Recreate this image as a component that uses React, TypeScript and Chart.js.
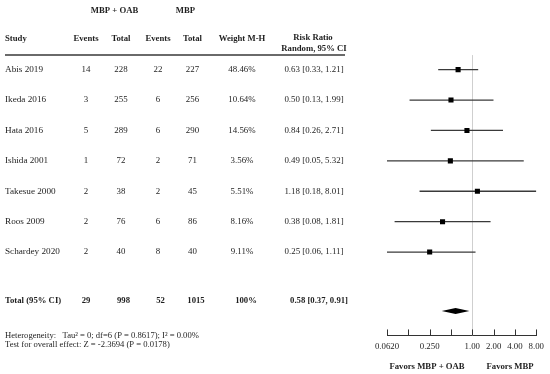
import React, { useEffect, useRef } from "react";
import { Chart, registerables } from "chart.js";

Chart.register(...registerables);

// ---------- data ----------
const studies = ["Abis 2019", "Ikeda 2016", "Hata 2016", "Ishida 2001", "Takesue 2000", "Roos 2009", "Schardey 2020"];
const eventsOAB = [14, 3, 5, 1, 2, 2, 2];
const totalOAB = [228, 255, 289, 72, 38, 76, 40];
const eventsMBP = [22, 6, 6, 2, 2, 6, 8];
const totalMBP = [227, 256, 290, 71, 45, 86, 40];
const weights = ["48.46%", "10.64%", "14.56%", "3.56%", "5.51%", "8.16%", "9.11%"];
const riskRatio = [0.63, 0.5, 0.84, 0.49, 1.18, 0.38, 0.25];
const ciLow = [0.33, 0.13, 0.26, 0.05, 0.18, 0.08, 0.06];
const ciHigh = [1.21, 1.99, 2.71, 5.32, 8.01, 1.81, 1.11];

const totalLabel = "Total (95% CI)";
const totalEventsOAB = 29;
const totalTotalOAB = 998;
const totalEventsMBP = 52;
const totalTotalMBP = 1015;
const totalWeight = "100%";
const pooledRR = 0.58;
const pooledLow = 0.37;
const pooledHigh = 0.91;

const heterogeneityText = "Heterogeneity:   Tau\u00b2 = 0; df=6 (P = 0.8617); I\u00b2 = 0.00%";
const overallText = "Test for overall effect: Z = -2.3694 (P = 0.0178)";

const xTickValues = [0.0625, 0.125, 0.25, 0.5, 1, 2, 4, 8];
const xTickLabels = ["0.0620", "", "0.250", "", "1.00", "2.00", "4.00", "8.00"];

const groupHeaders = ["MBP + OAB", "MBP"];
const columnHeaders = ["Study", "Events", "Total", "Events", "Total", "Weight M-H"];
const rrHeader = ["Risk Ratio", "Random, 95% CI"];
const favorsLabels = ["Favors MBP + OAB", "Favors MBP"];

// ---------- layout (row units on the y scale) ----------
const FONT = "'Liberation Serif', 'Times New Roman', serif";
const ROW_GROUP = -0.93;
const ROW_HEAD = -0.02;
const ROW_HEAD1 = -0.05;
const ROW_HEAD2 = 0.3;
const ROW_RULE = 0.52;
const ROW_TOTAL = 8.6;
const ROW_DIAMOND = 8.94;
const ROW_HET = 9.74;
const ROW_TEST = 10.05;
const ROW_FAVORS = 10.76;

const COL_STUDY = 5;
const COL_X = [86, 121, 158, 192.5, 242];
const COL_X_TOTAL = [86, 123.5, 160.5, 196, 246];
const COL_RR = 314;
const COL_RR_TOTAL = 319;
const GROUP_X = [114.5, 185.5];
const FAVORS_X = [427, 510];

const forestPlugin = {
  id: "forest",
  beforeDatasetsDraw(chart: any) {
    const { ctx, scales, chartArea } = chart;
    const x = scales.x;
    const y = scales.y;
    ctx.save();
    ctx.strokeStyle = "#cfcfcf";
    ctx.lineWidth = 1;
    const px = Math.round(x.getPixelForValue(1)) + 0.5;
    ctx.beginPath();
    ctx.moveTo(px, y.getPixelForValue(ROW_RULE));
    ctx.lineTo(px, chartArea.bottom);
    ctx.stroke();
    ctx.restore();
  },
  afterDraw(chart: any) {
    const { ctx, scales, chartArea } = chart;
    const x = scales.x;
    const y = scales.y;
    const text = (s: string, px: number, row: number, align: CanvasTextAlign, bold: boolean, size: number) => {
      ctx.font = `${bold ? "bold " : ""}${size}px ${FONT}`;
      ctx.textAlign = align;
      ctx.textBaseline = "middle";
      ctx.fillStyle = "#1e1e1e";
      ctx.fillText(s, px, y.getPixelForValue(row));
    };
    ctx.save();

    // upward axis ticks
    ctx.strokeStyle = "#333";
    ctx.lineWidth = 1;
    x.ticks.forEach((t: any) => {
      const px = Math.round(x.getPixelForValue(t.value)) + 0.5;
      ctx.beginPath();
      ctx.moveTo(px, chartArea.bottom - 6);
      ctx.lineTo(px, chartArea.bottom);
      ctx.stroke();
    });

    // pooled diamond
    const yd = y.getPixelForValue(ROW_DIAMOND);
    ctx.fillStyle = "#000";
    ctx.beginPath();
    ctx.moveTo(x.getPixelForValue(pooledLow), yd);
    ctx.lineTo(x.getPixelForValue(pooledRR), yd - 3);
    ctx.lineTo(x.getPixelForValue(pooledHigh), yd);
    ctx.lineTo(x.getPixelForValue(pooledRR), yd + 3);
    ctx.closePath();
    ctx.fill();

    // header rule
    ctx.strokeStyle = "#6a6a6a";
    ctx.lineWidth = 2;
    ctx.beginPath();
    const ry = y.getPixelForValue(ROW_RULE);
    ctx.moveTo(COL_STUDY, ry);
    ctx.lineTo(345, ry);
    ctx.stroke();

    // headers
    groupHeaders.forEach((h, i) => text(h, GROUP_X[i], ROW_GROUP, "center", true, 8.7));
    text(columnHeaders[0], COL_STUDY, ROW_HEAD, "left", true, 8.7);
    columnHeaders.slice(1).forEach((h, i) => text(h, COL_X[i], ROW_HEAD, "center", true, 8.7));
    text(rrHeader[0], COL_RR - 1, ROW_HEAD1, "center", true, 8.7);
    text(rrHeader[1], COL_RR, ROW_HEAD2, "center", true, 8.7);

    // study rows
    studies.forEach((s, i) => {
      const row = i + 1;
      text(s, COL_STUDY, row, "left", false, 9.2);
      const vals = [String(eventsOAB[i]), String(totalOAB[i]), String(eventsMBP[i]), String(totalMBP[i]), weights[i]];
      vals.forEach((v, j) => text(v, COL_X[j], row, "center", false, 8.9));
      text(`${riskRatio[i].toFixed(2)} [${ciLow[i].toFixed(2)}, ${ciHigh[i].toFixed(2)}]`, COL_RR, row, "center", false, 8.9);
    });

    // total row
    text(totalLabel, COL_STUDY, ROW_TOTAL, "left", true, 8.7);
    [String(totalEventsOAB), String(totalTotalOAB), String(totalEventsMBP), String(totalTotalMBP), totalWeight].forEach((v, j) =>
      text(v, COL_X_TOTAL[j], ROW_TOTAL, "center", true, 8.7)
    );
    text(`${pooledRR.toFixed(2)} [${pooledLow.toFixed(2)}, ${pooledHigh.toFixed(2)}]`, COL_RR_TOTAL, ROW_TOTAL, "center", true, 8.7);

    // footnotes
    text(heterogeneityText, COL_STUDY, ROW_HET, "left", false, 8.6);
    text(overallText, COL_STUDY, ROW_TEST, "left", false, 8.6);

    // favors labels
    favorsLabels.forEach((f, i) => text(f, FAVORS_X[i], ROW_FAVORS, "center", true, 8.7));

    ctx.restore();
  },
};

export default function App() {
  const ref = useRef<HTMLCanvasElement | null>(null);
  useEffect(() => {
    document.body.style.margin = "0";
    if (!ref.current) return;
    const ciDatasets = studies.map((s, i) => ({
      label: s + " CI",
      data: [
        { x: ciLow[i], y: i + 1 },
        { x: ciHigh[i], y: i + 1 },
      ],
      showLine: true,
      borderColor: "#3a3a3a",
      borderWidth: 1.3,
      pointRadius: 0,
    }));
    const chart = new Chart(ref.current, {
      type: "scatter",
      data: {
        datasets: [
          {
            label: "Risk ratio",
            data: riskRatio.map((v, i) => ({ x: v, y: i + 1 })),
            pointStyle: "rect",
            pointRadius: 3.6,
            backgroundColor: "#000",
            borderColor: "#000",
            borderWidth: 0,
          },
          ...ciDatasets,
        ] as any,
      },
      options: {
        animation: false,
        responsive: false,
        events: [],
        layout: { padding: { left: 387, right: 12, top: 0, bottom: 16 } },
        plugins: { legend: { display: false }, tooltip: { enabled: false } },
        scales: {
          x: {
            type: "logarithmic",
            min: 0.0625,
            max: 8,
            afterBuildTicks: (s: any) => {
              s.ticks = xTickValues.map((v) => ({ value: v }));
            },
            ticks: {
              autoSkip: false,
              maxRotation: 0,
              padding: 6,
              color: "#1e1e1e",
              font: { family: FONT, size: 8.8 },
              callback: (_v: any, i: number) => xTickLabels[i],
            },
            grid: { display: false, drawTicks: false },
            border: { display: true, color: "#333", width: 1 },
          },
          y: {
            type: "linear",
            min: -1.16,
            max: 9.742,
            reverse: true,
            display: false,
          },
        },
      },
      plugins: [forestPlugin],
    });
    return () => chart.destroy();
  }, []);
  return (
    <div style={{ width: 550, height: 374, background: "#fff" }}>
      <canvas ref={ref} width={550} height={374} style={{ display: "block" }} />
    </div>
  );
}
